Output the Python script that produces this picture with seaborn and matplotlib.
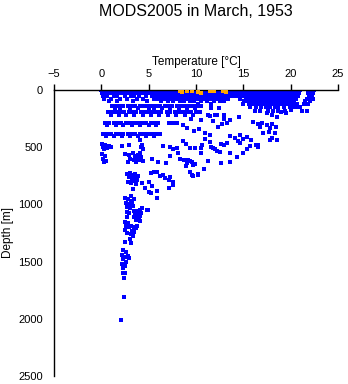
import numpy as np
import pandas as pd
import matplotlib
matplotlib.use("Agg")
import matplotlib.pyplot as plt
import seaborn as sns

# ---------------- data (temperature in degC, depth in m) ----------------
# near-surface rows: one depth per row, list of temperatures
row_depths = [3, 25, 50, 75, 100, 125, 150, 180,
              140, 160, 195, 215, 290, 310, 385, 405]
row_t0 = [0.0,0.3,0.7,1.0,1.4,1.7,2.1,2.4,2.8,3.1,3.5,3.8,4.2,4.5,4.9,5.2,5.6,5.9,6.3,6.6,7.0,7.3,7.7,8.0,8.4,8.7,9.1,9.4,9.8,10.1,10.5,10.8,11.2,11.5,11.9,12.2,12.6,12.9,13.3,13.6,14.0,14.3,14.7,15.0,15.4,15.7,16.1,16.4,16.8,17.1,17.5,17.8,18.2,18.5,18.9,19.2,19.6,19.9,20.3,20.6,21.0,21.9,22.2,22.5]
row_t1 = [0.1,0.5,0.9,1.2,1.6,2.0,2.3,2.7,3.0,3.4,3.8,4.1,4.5,4.8,5.2,5.5,5.9,6.2,6.6,6.9,7.3,7.6,8.0,8.3,8.7,9.0,9.4,9.7,10.1,10.4,10.8,11.1,11.5,11.8,12.2,12.5,12.9,13.2,13.6,13.9,14.3,14.6,15.0,15.3,15.7,16.0,16.4,16.7,17.1,17.4,17.8,18.1,18.5,18.8,19.2,19.5,19.9,20.2,20.6,20.9,21.8,22.1,22.4]
row_t2 = [0.2,0.6,1.3,1.7,2.5,3.1,3.5,4.0,4.7,5.3,5.8,6.1,6.5,6.8,7.2,7.5,7.9,8.2,8.6,8.9,9.3,9.6,10.0,10.3,10.7,11.0,11.4,11.7,12.1,12.4,12.8,13.1,13.5,13.8,14.2,14.5,14.9,15.2,15.6,15.9,16.3,16.6,17.0,17.3,17.7,18.0,18.4,18.7,19.1,19.4,19.8,20.1,20.5,20.8,21.9,22.3]
row_t3 = [0.3,1.0,2.0,2.7,3.8,4.4,5.6,6.0,6.4,6.7,7.1,7.4,7.8,8.1,8.5,8.8,9.2,9.5,9.9,10.2,10.6,10.9,11.3,11.6,12.0,12.3,12.7,13.0,13.4,14.6,15.3,15.7,16.0,16.4,16.7,17.1,17.4,17.8,18.1,18.5,18.8,19.2,19.5,19.9,20.2,20.6,21.7,22.0,22.4]
row_t4 = [0.8,1.7,3.3,4.8,6.3,7.0,7.6,8.3,8.7,9.4,9.8,10.5,11.2,11.9,12.5,13.0,15.1,15.5,15.8,16.2,16.5,16.9,17.2,17.6,17.9,18.3,18.6,19.0,19.3,19.7,20.0,20.4,21.5,22.0]
row_t5 = [10.2,11.6,15.0,15.6,16.0,16.4,16.8,17.1,17.5,17.8,18.2,18.5,18.9,19.2,19.6,19.9,20.3,20.7,21.4,21.8]
row_t6 = [15.7,16.3,16.9,17.4,17.8,18.3,18.7,19.3,19.9,20.4,20.8]
row_t7 = [16.2,16.8,17.6,18.1,18.7,19.4,21.2,21.7]
row_t8 = [1.1,1.5,1.9,2.3,2.8,3.2,3.6,4.1,4.5,4.9,5.4,5.8,6.2,6.7,7.1,7.5,8.0,8.4,8.8,9.3,9.7,10.1,10.5]
row_t9 = [1.4,2.0,3.0,3.9,5.0,5.6,6.4,7.3,8.2,9.0,9.9,11.6,12.4]
row_t10 = [0.7,1.1,1.6,2.0,2.4,2.9,3.3,3.7,4.2,4.6,5.0,5.5,5.9,6.3,6.9,7.3,7.8,8.2,8.6,9.1,9.5,10.0,10.4]
row_t11 = [1.0,1.9,2.6,3.5,4.4,5.2,6.1,7.0,7.9,8.8,9.7,11.3,12.0,13.0]
row_t12 = [0.4,0.8,1.3,1.7,2.1,2.6,3.0,3.4,3.9,4.3,4.7,5.2,5.6,6.0,7.1,7.6,8.0]
row_t13 = [0.6,1.5,2.3,3.2,4.1,5.0,5.8]
row_t14 = [0.2,0.6,1.0,1.5,1.9,2.3,2.8,3.2,3.6,4.1,4.5,4.9,5.4,5.8,6.2]
row_t15 = [0.5,1.3,2.2,3.0,3.9,4.7,5.6]
row_temps = [row_t0, row_t1, row_t2, row_t3, row_t4, row_t5, row_t6, row_t7,
             row_t8, row_t9, row_t10, row_t11, row_t12, row_t13, row_t14, row_t15]

# scattered casts below the surface layer
scat_t = [11.5,12.2,13.0,11.8,12.7,13.6,14.5,12.3,13.3,
          16.0,16.5,17.0,17.5,18.0,18.5,16.8,17.8,
          17.1,17.7,18.3,18.6,18.0,17.8,
          13.6,14.1,14.6,15.0,15.4,15.8,
          16.5,12.6,13.0,13.3,11.8,12.2,13.6,15.0,15.4,15.7,
          17.5,18.0,18.6,19.0,19.5,20.0,20.5,21.0,
          9.1,9.8,10.3,11.0,11.5,10.6,11.0,9.5,10.5,8.6,
          14.4,14.7,16.3,16.6,
          4.1,4.3,4.4,4.2,2.2,2.9,6.5,7.3,7.6,8.0,8.6,8.9,9.4,9.9,10.5,10.5,11.5,11.6,12.0,12.5,
          0.1,0.4,0.8,0.2,0.6,1.0,0.3,0.1,0.4,0.2,0.5,0.3,
          2.5,2.9,3.3,3.6,3.9,4.2,3.0,3.4,3.8,4.4,2.8,3.7,4.1,
          5.4,6.0,6.8,7.3,8.1,8.3,8.7,9.0,9.4,9.7,8.9,
          9.4,9.7,10.2,5.9,6.2,6.7,7.1,7.6,6.5,7.3,
          4.3,5.0,5.4,5.9,5.2,4.6,5.0,7.1,7.6,5.9,
          3.1,3.4,2.7,4.9,
          2.7,3.0,3.3,3.6,3.9,2.9,3.2,3.5,3.8,2.8,3.1,3.4,3.7,3.3,
          5.2,5.6,
          9.2,9.6,9.9,9.6,10.2,12.6,13.6,6.0,3.7,4.1,
          10.8,11.3,14.3,
          2.5,2.8,3.1,2.6,2.9,3.2,2.7,3.0,3.3,2.9,
          3.5,3.8,4.1,3.6,3.9,4.2,3.5,3.8,4.1,3.7,4.0,4.1,4.8,4.3,
          2.5,2.8,2.6,2.9,2.5,2.7,
          3.1,3.4,3.7,3.2,3.5,3.1,3.3,3.8,
          2.7,2.5,3.1,3.0,
          2.3,2.6,2.2,2.5,2.8,2.3,2.6,2.2,2.5,2.3,2.9,
          2.3,2.5,2.4,2.4,2.1]
scat_d = [230,215,250,270,300,260,235,320,290,
          280,300,285,310,295,320,325,330,
          375,370,380,440,420,440,
          400,420,395,430,410,440,
          480,470,485,460,510,530,550,550,520,490,
          200,220,240,190,205,175,150,150,
          330,360,340,380,395,480,430,250,260,310,
          450,460,485,500,
          440,480,520,500,490,480,490,500,515,505,445,470,510,505,510,550,455,500,520,545,
          470,480,490,500,510,495,520,560,575,600,620,630,
          560,570,555,580,565,590,600,610,600,620,625,630,550,
          600,630,640,580,555,600,615,640,620,655,660,
          715,750,730,715,750,770,790,805,745,760,
          810,800,840,880,900,860,890,860,830,945,
          925,955,1110,1050,
          735,725,740,730,750,760,775,760,790,800,810,795,820,865,
          725,720,
          610,630,650,745,740,640,625,625,610,615,
          690,620,585,
          940,955,970,990,1000,985,1020,1035,1010,1075,
          1055,1060,1050,1080,1090,1075,1110,1120,1100,1140,1135,1145,1050,1030,
          1150,1160,1185,1200,1220,1065,
          1190,1200,1210,1230,1240,1260,1280,1185,
          1250,1330,1340,1300,
          1400,1420,1440,1460,1450,1480,1500,1520,1535,1555,1470,
          1600,1600,1645,1810,2010]

# flagged (orange) surface observations
flag_t = [8.3,8.5,9.1,9.6,10.2,10.5,11.5,11.9,12.9,13.2]
flag_d = [5,15,5,10,15,25,5,12,5,15]

x_ticks = [-5, 0, 5, 10, 15, 20, 25]
y_ticks = [0, 500, 1000, 1500, 2000, 2500]

# ---------------- assemble ----------------
temps, depths = [], []
for d, ts in zip(row_depths, row_temps):
    temps += ts
    depths += [d] * len(ts)
temps += scat_t
depths += scat_d
good = pd.DataFrame({"temp": temps, "depth": depths})
flag = pd.DataFrame({"temp": flag_t, "depth": flag_d})

sns.set_style("white")
plt.rcParams["font.family"] = ["Liberation Sans", "DejaVu Sans"]
plt.rcParams["text.color"] = "black"
plt.rcParams["axes.labelcolor"] = "black"

fig = plt.figure(figsize=(3.48, 3.84), dpi=100)
ax = fig.add_axes([54/348, 1 - 376/384, 284/348, 286/384])

sns.scatterplot(data=good, x="temp", y="depth", color="#0000FF",
                marker="s", s=8, linewidth=0, legend=False, ax=ax)
sns.scatterplot(data=flag, x="temp", y="depth", color="#FFA500",
                marker="s", s=9, linewidth=0, legend=False, ax=ax, zorder=5)

ax.set_xlim(-5, 25)
ax.set_ylim(2500, 0)
ax.set_xticks(x_ticks)
ax.set_yticks(y_ticks)
ax.xaxis.set_ticks_position("top")
ax.xaxis.set_label_position("top")
for s in ["right", "bottom"]:
    ax.spines[s].set_visible(False)
for s in ["left", "top"]:
    ax.spines[s].set_color("black")
    ax.spines[s].set_linewidth(1.0)
ax.tick_params(axis="both", direction="out", length=4, width=1.0,
               colors="black", labelsize=8, pad=4)
ax.set_xlabel("Temperature [\u00b0C]", fontsize=8.5, labelpad=3, color="black")
ax.set_ylabel("Depth [m]", fontsize=8.5, labelpad=3, color="black")
fig.suptitle("MODS2005 in March, 1953", fontsize=11.5, x=196/348, y=1 - 4/384,
             va="top", color="black")

fig.savefig("out.png", dpi=100)
